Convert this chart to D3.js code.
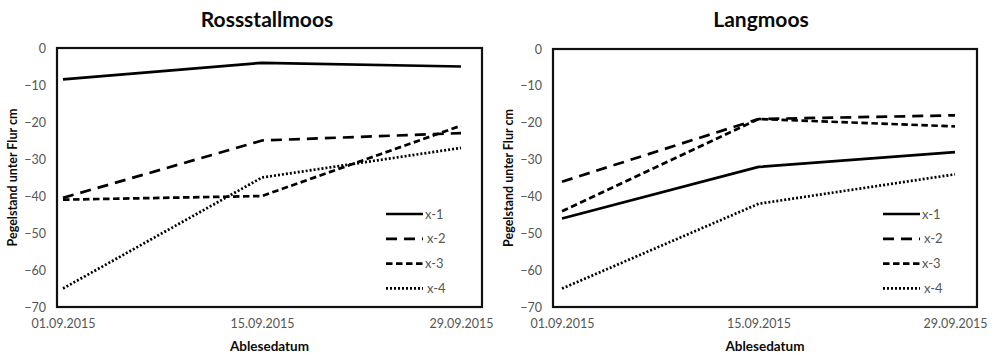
<!DOCTYPE html>
<html>
<head>
<meta charset="utf-8">
<script src="https://cdn.jsdelivr.net/npm/d3@7"></script>
<style>
  html, body { margin: 0; padding: 0; background: #fff; }
  svg { display: block; }
</style>
</head>
<body>
<svg id="chart" width="995" height="357"></svg>
<script>
// Reading dates (category axis)
const dates = ["01.09.2015", "15.09.2015", "29.09.2015"];
const seriesNames = ["x-1", "x-2", "x-3", "x-4"];
const yTicks = [0, -10, -20, -30, -40, -50, -60, -70];

// Water level below ground surface (cm), per gauge
const rossstallmoos = {
  "x-1": [-8.5, -4, -5],
  "x-2": [-40.5, -25, -23],
  "x-3": [-41, -40, -21],
  "x-4": [-65, -35, -27]
};
const langmoos = {
  "x-1": [-46, -32, -28],
  "x-2": [-36, -19, -18],
  "x-3": [-44, -19, -21],
  "x-4": [-65, -42, -34]
};

const dashStyles = {
  "x-1": null,
  "x-2": "11,7",
  "x-3": "6.5,3.5",
  "x-4": "2,2"
};

const svg = d3.select("#chart");
const font = "Lato, 'Open Sans', sans-serif";

function drawPanel(cfg) {
  const g = svg.append("g");
  const y = d3.scaleLinear().domain([-70, 0]).range([cfg.bottom, cfg.top]);
  const x = d3.scalePoint().domain(dates).range([cfg.x0, cfg.x1]);

  // title
  g.append("text")
    .attr("x", cfg.titleX).attr("y", 27)
    .attr("text-anchor", "middle")
    .attr("font-family", font).attr("font-weight", 700)
    .attr("font-size", 21).attr("fill", "#0a0a0a")
    .text(cfg.title);

  // y axis (labels only)
  const yAxis = d3.axisLeft(y).tickValues(yTicks).tickSize(0).tickPadding(0);
  const ya = g.append("g").attr("transform", `translate(${cfg.left - 11},0)`).call(yAxis);
  ya.select(".domain").remove();
  ya.selectAll("text").attr("font-family", font).attr("font-size", 12.5).attr("fill", "#555");

  // x axis (labels only)
  const xAxis = d3.axisBottom(x).tickSize(0).tickPadding(0);
  const xa = g.append("g").attr("transform", `translate(0,${cfg.bottom + 12})`).call(xAxis);
  xa.select(".domain").remove();
  xa.selectAll("text").attr("font-family", font).attr("font-size", 12.5).attr("fill", "#555");

  // axis titles
  g.append("text")
    .attr("transform", `translate(${cfg.left - 44},${(cfg.top + cfg.bottom) / 2}) rotate(-90)`)
    .attr("text-anchor", "middle").attr("dy", "0.35em")
    .attr("font-family", font).attr("font-weight", 700)
    .attr("font-size", 12.5).attr("fill", "#0a0a0a")
    .text("Pegelstand unter Flur cm");
  g.append("text")
    .attr("x", (cfg.left + cfg.right) / 2).attr("y", 351)
    .attr("text-anchor", "middle")
    .attr("font-family", font).attr("font-weight", 700)
    .attr("font-size", 13.5).attr("fill", "#0a0a0a")
    .text("Ablesedatum");

  // series lines
  const line = d3.line().x((d, i) => x(dates[i])).y(d => y(d));
  seriesNames.forEach(name => {
    g.append("path")
      .datum(cfg.data[name])
      .attr("d", line)
      .attr("fill", "none")
      .attr("stroke", "#000")
      .attr("stroke-width", 2.7)
      .attr("stroke-dasharray", dashStyles[name]);
  });

  // plot frame
  g.append("rect")
    .attr("x", cfg.left).attr("y", cfg.top)
    .attr("width", cfg.right - cfg.left).attr("height", cfg.bottom - cfg.top)
    .attr("fill", "none").attr("stroke", "#111").attr("stroke-width", 2.2);

  // legend
  const lg = g.append("g");
  seriesNames.forEach((name, i) => {
    const ly = 214 + i * 24.8;
    lg.append("line")
      .attr("x1", cfg.legX).attr("x2", cfg.legX + 37)
      .attr("y1", ly).attr("y2", ly)
      .attr("stroke", "#000").attr("stroke-width", 2.7)
      .attr("stroke-dasharray", dashStyles[name]);
    lg.append("text")
      .attr("x", cfg.legX + 39 + (name === "x-2" || name === "x-4" ? 2 : 0)).attr("y", ly)
      .attr("dy", "0.35em")
      .attr("font-family", font).attr("font-size", 13).attr("fill", "#555")
      .text(name);
  });
}

drawPanel({
  title: "Rossstallmoos", titleX: 267, data: rossstallmoos,
  left: 57, right: 482, top: 48, bottom: 307,
  x0: 63, x1: 461, legX: 386
});
drawPanel({
  title: "Langmoos", titleX: 761, data: langmoos,
  left: 553, right: 977, top: 49, bottom: 307,
  x0: 562, x1: 955, legX: 883
});
</script>
</body>
</html>
